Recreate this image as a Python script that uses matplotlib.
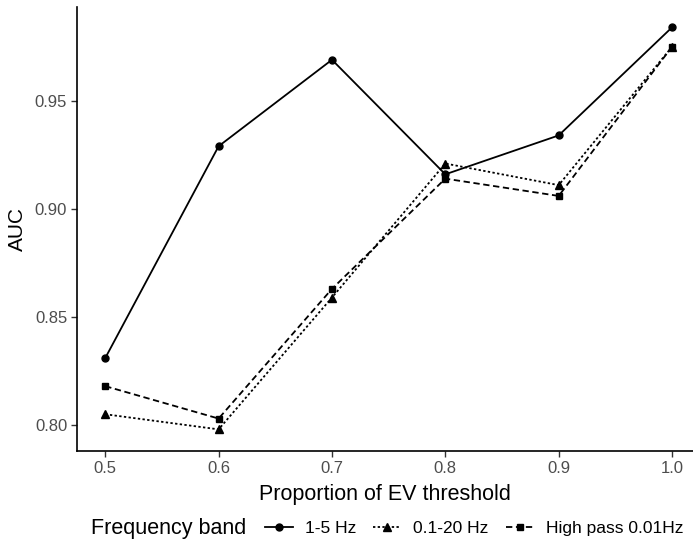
import matplotlib.pyplot as plt

# proportion of EV threshold and AUC for each band
thresholds = [0.5, 0.6, 0.7, 0.8, 0.9, 1.0]
auc_1_5 = [0.831, 0.929, 0.969, 0.916, 0.934, 0.984]
auc_01_20 = [0.805, 0.798, 0.859, 0.921, 0.911, 0.975]
auc_highpass = [0.818, 0.803, 0.863, 0.914, 0.906, 0.975]
band_labels = ["1-5 Hz", "0.1-20 Hz", "High pass 0.01Hz"]
y_ticks = [0.80, 0.85, 0.90, 0.95]

plt.rcParams["font.family"] = ["Liberation Sans", "DejaVu Sans"]

fig = plt.figure(figsize=(6.93, 5.45), dpi=100)
ax = fig.add_axes([0.111, 0.1725, 0.889, 0.815])

ax.plot(thresholds, auc_1_5, color="black", lw=1.3, ls="-",
        marker="o", ms=5, label=band_labels[0])
ax.plot(thresholds, auc_01_20, color="black", lw=1.3, ls=(0, (1.3, 1.3)),
        marker="^", ms=5.5, label=band_labels[1])
ax.plot(thresholds, auc_highpass, color="black", lw=1.3, ls=(0, (3.5, 2)),
        marker="s", ms=5, label=band_labels[2])

ax.set_xlim(0.475, 1.0185)
ax.set_ylim(0.788, 0.9935)
ax.set_xticks(thresholds)
ax.set_xticklabels([f"{t:.1f}" for t in thresholds])
ax.set_yticks(y_ticks)
ax.set_yticklabels([f"{t:.2f}" for t in y_ticks])

for side in ["top", "right"]:
    ax.spines[side].set_visible(False)
for side in ["left", "bottom"]:
    ax.spines[side].set_linewidth(1.2)
    ax.spines[side].set_color("black")

ax.tick_params(axis="both", length=4, width=1.0, color="#333333",
               labelcolor="#4D4D4D", labelsize=12, pad=3)

ax.set_xlabel("Proportion of EV threshold", fontsize=15.5, labelpad=6)
ax.set_ylabel("AUC", fontsize=15, labelpad=6)

fig.text(0.131, 0.031, "Frequency band", fontsize=15.5, va="center", ha="left")
fig.legend(loc="center left", bbox_to_anchor=(0.382, 0.031), ncol=3,
           frameon=False, fontsize=12.5, handlelength=1.6, handletextpad=0.7,
           columnspacing=1.0, borderaxespad=0, borderpad=0)

fig.savefig("out.png", dpi=100)
